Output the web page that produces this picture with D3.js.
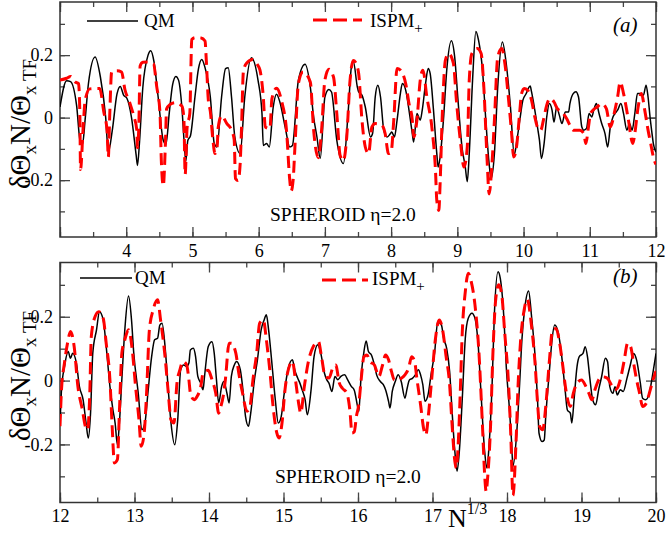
<!doctype html>
<html>
<head>
<meta charset="utf-8">
<script src="https://cdnjs.cloudflare.com/ajax/libs/d3/7.8.5/d3.min.js"></script>
<style>
  body { margin: 0; background: #fff; }
  text { font-family: "Liberation Serif", "Times New Roman", serif; }
</style>
</head>
<body>
<svg width="668" height="533"></svg>
<script>
// panel (a): N^(1/3) from 3 to 12, [x, dTheta]
var qmA = [[3.00,0.034],[3.10,0.118],[3.16,0.115],[3.25,0.040],[3.31,-0.083],[3.34,-0.085],[3.38,-0.005],[3.43,0.110],[3.53,0.194],[3.61,0.130],[3.69,0.000],[3.73,-0.110],[3.79,-0.040],[3.86,0.075],[3.91,0.100],[3.96,0.072],[4.01,0.062],[4.08,0.000],[4.15,-0.120],[4.17,-0.153],[4.20,-0.080],[4.25,0.095],[4.33,0.200],[4.37,0.214],[4.42,0.178],[4.48,0.070],[4.56,-0.073],[4.60,-0.085],[4.65,0.015],[4.70,0.105],[4.75,0.132],[4.79,0.120],[4.84,0.034],[4.88,-0.094],[4.90,-0.140],[4.93,-0.073],[4.97,-0.058],[5.04,0.070],[5.09,0.155],[5.14,0.186],[5.19,0.160],[5.27,0.066],[5.33,-0.083],[5.37,-0.094],[5.44,0.066],[5.50,0.157],[5.54,0.160],[5.59,0.066],[5.64,-0.062],[5.72,-0.115],[5.79,0.066],[5.89,0.192],[5.99,0.120],[6.05,0.013],[6.07,-0.089],[6.12,-0.083],[6.16,-0.094],[6.22,0.034],[6.27,0.075],[6.32,0.050],[6.40,-0.030],[6.47,-0.094],[6.51,-0.089],[6.60,0.120],[6.70,0.171],[6.78,0.098],[6.83,0.002],[6.88,-0.062],[6.93,-0.130],[7.00,0.066],[7.06,0.090],[7.10,0.082],[7.18,-0.073],[7.28,-0.147],[7.35,0.013],[7.40,0.162],[7.43,0.180],[7.49,0.098],[7.51,0.082],[7.56,0.072],[7.61,0.034],[7.69,-0.062],[7.72,-0.051],[7.76,0.066],[7.80,0.104],[7.84,0.066],[7.89,-0.041],[7.94,-0.062],[7.99,-0.051],[8.01,-0.046],[8.05,-0.062],[8.09,-0.008],[8.14,0.077],[8.17,0.109],[8.22,0.088],[8.27,0.024],[8.32,-0.051],[8.34,-0.078],[8.39,0.013],[8.44,-0.008],[8.47,0.024],[8.52,0.109],[8.56,0.157],[8.59,0.141],[8.64,0.024],[8.69,-0.115],[8.71,-0.158],[8.74,-0.126],[8.79,-0.008],[8.84,0.152],[8.91,0.246],[8.96,0.194],[9.01,0.056],[9.07,-0.094],[9.12,-0.158],[9.15,-0.205],[9.18,-0.115],[9.23,0.120],[9.28,0.276],[9.32,0.248],[9.38,0.152],[9.43,-0.008],[9.48,-0.147],[9.51,-0.195],[9.56,-0.115],[9.61,0.098],[9.68,0.242],[9.74,0.170],[9.80,0.040],[9.86,-0.118],[9.90,-0.072],[9.95,0.002],[9.99,0.056],[10.04,0.077],[10.07,0.093],[10.10,0.101],[10.12,0.083],[10.17,0.024],[10.21,-0.030],[10.24,-0.072],[10.27,-0.131],[10.31,-0.083],[10.35,0.002],[10.39,0.045],[10.43,0.024],[10.46,-0.014],[10.50,0.034],[10.54,0.008],[10.58,-0.019],[10.63,0.018],[10.68,0.018],[10.70,0.045],[10.75,0.077],[10.79,0.083],[10.83,0.066],[10.88,-0.030],[10.91,-0.040],[10.95,-0.035],[10.99,0.013],[11.03,0.002],[11.06,0.024],[11.10,0.045],[11.14,0.013],[11.18,-0.019],[11.23,-0.051],[11.27,-0.094],[11.31,-0.030],[11.35,0.002],[11.38,0.013],[11.42,0.024],[11.47,0.045],[11.51,0.013],[11.56,-0.040],[11.60,-0.019],[11.64,-0.040],[11.68,0.013],[11.72,0.077],[11.76,0.077],[11.81,0.072],[11.85,0.104],[11.88,0.066],[11.91,0.002],[11.94,-0.051],[11.96,-0.083],[12.00,-0.110]];

var ispmA = [[3.00,0.120],[3.10,0.126],[3.16,0.132],[3.23,0.114],[3.28,0.109],[3.30,0.010],[3.31,-0.166],[3.35,-0.030],[3.38,0.056],[3.45,0.092],[3.55,0.093],[3.60,0.093],[3.66,0.020],[3.71,-0.040],[3.73,-0.126],[3.75,0.002],[3.78,0.146],[3.86,0.150],[3.93,0.146],[3.98,0.090],[4.05,0.050],[4.11,0.008],[4.16,-0.040],[4.17,-0.096],[4.19,-0.030],[4.21,0.165],[4.25,0.177],[4.32,0.178],[4.41,0.173],[4.46,0.100],[4.51,0.015],[4.53,-0.137],[4.56,-0.218],[4.59,-0.094],[4.61,0.028],[4.66,0.042],[4.74,0.048],[4.84,0.037],[4.87,0.000],[4.89,-0.182],[4.92,-0.030],[4.96,0.013],[4.99,0.250],[5.04,0.256],[5.13,0.255],[5.19,0.245],[5.21,0.180],[5.24,0.056],[5.27,0.020],[5.31,-0.073],[5.34,-0.115],[5.37,-0.100],[5.39,-0.030],[5.44,0.006],[5.52,-0.019],[5.59,-0.040],[5.63,-0.070],[5.65,-0.195],[5.69,-0.201],[5.72,-0.150],[5.74,-0.040],[5.77,0.150],[5.82,0.175],[5.91,0.186],[5.98,0.170],[6.02,0.152],[6.07,0.066],[6.10,-0.030],[6.17,-0.035],[6.20,0.060],[6.27,0.094],[6.35,0.050],[6.42,-0.040],[6.47,-0.201],[6.49,-0.235],[6.52,-0.201],[6.55,-0.083],[6.60,0.109],[6.67,0.146],[6.78,0.114],[6.83,-0.040],[6.90,-0.128],[6.95,-0.040],[7.00,0.120],[7.06,0.155],[7.13,0.130],[7.18,0.013],[7.23,-0.121],[7.28,-0.137],[7.33,-0.062],[7.38,0.120],[7.43,0.183],[7.46,0.178],[7.51,0.141],[7.56,-0.008],[7.61,-0.094],[7.66,-0.115],[7.71,-0.030],[7.76,-0.019],[7.86,-0.024],[7.91,-0.051],[7.96,-0.115],[8.00,-0.110],[8.04,-0.008],[8.09,0.157],[8.14,0.152],[8.22,0.109],[8.27,0.045],[8.32,-0.008],[8.34,-0.062],[8.39,-0.008],[8.44,0.120],[8.48,0.152],[8.54,0.066],[8.62,-0.040],[8.67,-0.169],[8.69,-0.265],[8.72,-0.297],[8.74,-0.211],[8.77,-0.008],[8.82,0.184],[8.87,0.205],[8.94,0.174],[8.99,0.045],[9.05,-0.083],[9.10,-0.158],[9.15,-0.094],[9.18,0.120],[9.22,0.205],[9.30,0.221],[9.36,0.205],[9.40,0.098],[9.45,-0.137],[9.48,-0.244],[9.52,-0.158],[9.56,-0.008],[9.61,0.194],[9.67,0.221],[9.72,0.170],[9.77,0.066],[9.82,-0.051],[9.85,-0.126],[9.90,-0.083],[9.94,0.013],[9.97,0.077],[10.01,0.093],[10.06,0.088],[10.12,0.056],[10.17,0.002],[10.22,-0.035],[10.26,-0.040],[10.30,-0.008],[10.35,0.040],[10.40,0.061],[10.46,0.050],[10.51,0.029],[10.58,0.018],[10.65,-0.003],[10.70,-0.024],[10.75,-0.040],[10.85,-0.040],[10.91,-0.051],[10.94,-0.083],[10.98,-0.030],[11.01,0.013],[11.05,0.024],[11.11,0.034],[11.18,0.045],[11.25,0.029],[11.31,-0.030],[11.38,0.024],[11.42,0.066],[11.46,0.114],[11.51,0.077],[11.58,-0.003],[11.65,-0.083],[11.68,-0.051],[11.73,0.034],[11.78,0.077],[11.83,0.024],[11.88,-0.040],[11.92,-0.083],[11.96,-0.126],[12.00,-0.150]];

// panel (b): N^(1/3) from 12 to 20
var qmB = [[12.00,-0.140],[12.02,-0.029],[12.06,0.044],[12.11,0.091],[12.14,0.070],[12.17,0.086],[12.22,0.055],[12.26,-0.018],[12.31,-0.060],[12.35,-0.133],[12.38,-0.180],[12.41,-0.102],[12.44,0.086],[12.49,0.159],[12.53,0.216],[12.58,0.190],[12.62,0.107],[12.67,-0.018],[12.71,-0.091],[12.74,-0.133],[12.77,-0.201],[12.80,-0.123],[12.83,0.003],[12.87,0.159],[12.92,0.265],[12.96,0.190],[12.99,0.086],[13.05,-0.039],[13.10,-0.154],[13.14,-0.133],[13.18,-0.039],[13.23,0.075],[13.27,0.128],[13.31,0.133],[13.34,0.174],[13.37,0.180],[13.41,0.107],[13.45,-0.018],[13.49,-0.133],[13.54,-0.201],[13.58,-0.123],[13.62,0.034],[13.66,0.049],[13.70,0.044],[13.73,0.055],[13.75,0.096],[13.79,0.101],[13.82,0.075],[13.85,0.013],[13.89,-0.008],[13.92,-0.029],[13.94,0.013],[13.99,0.107],[14.04,0.122],[14.07,0.086],[14.10,0.003],[14.13,-0.070],[14.17,-0.018],[14.20,-0.003],[14.24,-0.039],[14.27,-0.070],[14.30,0.013],[14.34,0.049],[14.37,0.060],[14.42,0.034],[14.46,-0.039],[14.49,-0.112],[14.53,-0.143],[14.56,-0.102],[14.61,0.003],[14.65,0.065],[14.70,0.159],[14.74,0.190],[14.77,0.206],[14.80,0.159],[14.84,0.065],[14.89,-0.060],[14.93,-0.133],[14.97,-0.112],[15.01,-0.039],[15.06,0.034],[15.12,0.065],[15.15,0.034],[15.19,0.008],[15.22,-0.008],[15.25,-0.029],[15.29,-0.060],[15.32,-0.107],[15.37,-0.029],[15.41,0.075],[15.46,0.112],[15.50,0.086],[15.55,0.023],[15.58,0.003],[15.61,-0.008],[15.65,-0.034],[15.69,0.013],[15.73,0.003],[15.77,0.013],[15.82,0.018],[15.86,0.003],[15.91,-0.018],[15.95,-0.030],[15.99,-0.076],[16.01,-0.097],[16.04,0.007],[16.08,0.091],[16.11,0.124],[16.14,0.091],[16.18,0.080],[16.22,0.049],[16.25,0.018],[16.30,-0.003],[16.34,-0.013],[16.37,-0.029],[16.41,-0.065],[16.43,-0.086],[16.46,-0.034],[16.50,-0.003],[16.54,0.018],[16.58,-0.003],[16.63,-0.055],[16.66,-0.024],[16.69,0.002],[16.73,0.007],[16.77,0.018],[16.81,0.034],[16.84,0.018],[16.87,-0.013],[16.90,-0.065],[16.94,-0.045],[16.98,0.018],[17.03,0.091],[17.07,0.184],[17.12,0.174],[17.15,0.132],[17.19,0.101],[17.23,0.028],[17.26,-0.086],[17.30,-0.222],[17.33,-0.284],[17.36,-0.222],[17.40,-0.055],[17.44,0.132],[17.48,0.195],[17.53,0.211],[17.57,0.195],[17.61,0.122],[17.65,-0.034],[17.70,-0.222],[17.73,-0.274],[17.76,-0.201],[17.80,-0.013],[17.83,0.205],[17.88,0.341],[17.91,0.320],[17.94,0.257],[17.96,0.190],[17.99,0.044],[18.03,-0.081],[18.06,-0.186],[18.08,-0.269],[18.13,-0.165],[18.17,-0.008],[18.20,0.127],[18.24,0.230],[18.29,0.281],[18.33,0.200],[18.38,0.065],[18.41,-0.060],[18.43,-0.165],[18.47,-0.191],[18.50,-0.186],[18.52,-0.113],[18.57,0.033],[18.60,0.117],[18.64,0.174],[18.69,0.148],[18.73,0.085],[18.78,-0.029],[18.81,-0.092],[18.85,-0.102],[18.87,-0.133],[18.90,-0.060],[18.94,0.044],[18.97,0.075],[19.02,0.085],[19.05,0.106],[19.08,0.075],[19.11,0.012],[19.15,-0.060],[19.19,-0.076],[19.23,-0.029],[19.27,0.012],[19.32,0.070],[19.35,0.059],[19.38,-0.019],[19.42,-0.040],[19.45,-0.019],[19.48,-0.045],[19.52,-0.029],[19.56,-0.034],[19.61,0.007],[19.65,0.044],[19.70,0.085],[19.74,0.064],[19.79,-0.008],[19.82,-0.055],[19.86,-0.060],[19.91,-0.040],[19.95,0.012],[20.00,0.085]];

var ispmB = [[12.00,-0.143],[12.02,-0.029],[12.06,0.055],[12.11,0.128],[12.14,0.154],[12.19,0.107],[12.24,-0.018],[12.30,-0.091],[12.34,-0.143],[12.37,-0.154],[12.40,-0.039],[12.42,0.138],[12.47,0.200],[12.52,0.216],[12.58,0.195],[12.62,0.117],[12.67,0.003],[12.70,-0.143],[12.73,-0.258],[12.77,-0.248],[12.80,-0.081],[12.83,0.086],[12.87,0.128],[12.92,0.159],[12.97,0.096],[13.01,-0.008],[13.06,-0.123],[13.09,-0.206],[13.13,-0.164],[13.16,-0.050],[13.20,0.159],[13.25,0.221],[13.31,0.253],[13.35,0.190],[13.41,0.075],[13.45,-0.029],[13.49,-0.123],[13.53,-0.133],[13.57,-0.008],[13.61,0.034],[13.65,0.060],[13.70,0.049],[13.73,0.003],[13.75,-0.039],[13.80,-0.060],[13.84,-0.050],[13.89,-0.018],[13.92,0.023],[13.99,0.032],[14.04,0.003],[14.09,-0.039],[14.13,-0.102],[14.16,-0.081],[14.19,-0.050],[14.22,0.003],[14.27,0.117],[14.30,0.117],[14.36,0.086],[14.40,0.023],[14.45,-0.039],[14.51,-0.096],[14.55,-0.081],[14.59,0.003],[14.64,0.086],[14.68,0.180],[14.73,0.190],[14.77,0.128],[14.82,0.023],[14.86,-0.081],[14.91,-0.164],[14.94,-0.180],[14.98,-0.133],[15.02,-0.029],[15.07,0.039],[15.12,0.060],[15.16,0.003],[15.21,-0.081],[15.23,-0.102],[15.28,-0.018],[15.33,0.055],[15.40,0.107],[15.47,0.122],[15.51,0.075],[15.56,0.013],[15.61,0.008],[15.66,0.039],[15.70,0.049],[15.75,-0.008],[15.79,-0.024],[15.85,-0.039],[15.89,-0.091],[15.92,-0.164],[15.95,-0.160],[15.98,-0.110],[16.01,-0.076],[16.04,-0.003],[16.08,0.075],[16.12,0.080],[16.16,0.060],[16.22,0.049],[16.28,0.013],[16.33,0.049],[16.37,0.080],[16.41,0.065],[16.45,0.028],[16.49,0.002],[16.54,0.002],[16.58,0.007],[16.63,0.018],[16.68,0.039],[16.72,0.075],[16.76,0.060],[16.79,0.007],[16.84,-0.076],[16.88,-0.149],[16.91,-0.170],[16.95,-0.097],[16.99,0.007],[17.04,0.132],[17.09,0.190],[17.14,0.153],[17.18,0.080],[17.23,-0.013],[17.26,-0.128],[17.30,-0.253],[17.32,-0.274],[17.34,-0.222],[17.37,-0.055],[17.40,0.153],[17.44,0.278],[17.48,0.336],[17.52,0.310],[17.57,0.237],[17.62,0.101],[17.67,-0.138],[17.70,-0.295],[17.72,-0.347],[17.74,-0.305],[17.78,-0.138],[17.81,0.080],[17.85,0.258],[17.89,0.300],[17.93,0.268],[17.97,0.148],[18.02,-0.008],[18.05,-0.165],[18.08,-0.360],[18.12,-0.200],[18.15,-0.008],[18.18,0.117],[18.23,0.221],[18.27,0.255],[18.33,0.169],[18.38,0.044],[18.41,-0.071],[18.44,-0.144],[18.48,-0.154],[18.52,-0.081],[18.57,0.065],[18.61,0.158],[18.66,0.163],[18.70,0.127],[18.75,0.044],[18.79,-0.029],[18.85,-0.081],[18.89,-0.040],[18.94,-0.008],[19.00,0.002],[19.06,-0.019],[19.10,-0.040],[19.14,-0.060],[19.18,-0.029],[19.23,0.002],[19.28,0.012],[19.35,0.007],[19.40,-0.013],[19.45,-0.029],[19.48,-0.024],[19.53,0.012],[19.57,0.059],[19.62,0.117],[19.66,0.106],[19.70,0.054],[19.74,0.002],[19.78,-0.040],[19.82,-0.081],[19.87,-0.071],[19.91,-0.040],[19.96,0.002],[20.00,0.030]];

var xTicksA = [4,5,6,7,8,9,10,11,12];
var xTicksB = [12,13,14,15,16,17,18,19,20];
var yTicks = [-0.2, 0, 0.2];
var seriesNames = ["QM", "ISPM"];
var panelTags = ["(a)", "(b)"];
var shapeLabel = "SPHEROID \u03b7=2.0";

var svg = d3.select("svg");
var yDomain = [-0.382, 0.37];

var panels = [
  {tag: panelTags[0], xDom: [3,12], top: 2, bottom: 237, qm: qmA, ispm: ispmA, ticks: xTicksA,
   leg: {qmL: 87, qmR: 138, qmY: 21, qmT: 144, qmB: 27, spL: 313, spR: 362, spY: 20, spT: 370, spB: 27, tagB: 32},
   shape: {x: 270, y: 221}, labelY: 124},
  {tag: panelTags[1], xDom: [12,20], top: 262.5, bottom: 502.5, qm: qmB, ispm: ispmB, ticks: xTicksB,
   leg: {qmL: 80, qmR: 132, qmY: 278, qmT: 135, qmB: 284, spL: 322, spR: 368, spY: 280, spT: 372, spB: 285, tagB: 283},
   shape: {x: 275, y: 483}, labelY: 376}
];

var L = 60, R = 656;

panels.forEach(function(p, i) {
  var x = d3.scaleLinear().domain(p.xDom).range([L, R]);
  var y = d3.scaleLinear().domain(yDomain).range([p.bottom, p.top]);
  var g = svg.append("g");

  // y label first so the tick labels sit on top of it
  var yl = g.append("text").attr("transform", "translate(30," + p.labelY + ") rotate(-90)")
    .attr("text-anchor", "middle").attr("font-size", 29);
  yl.append("tspan").text("\u03b4\u0398");
  yl.append("tspan").attr("font-size", 19).attr("dy", 6).text("x");
  yl.append("tspan").attr("dy", -6).text("N/\u0398");
  yl.append("tspan").attr("font-size", 19).attr("dy", 6).text("x TF");

  g.append("clipPath").attr("id", "clip" + i)
    .append("rect").attr("x", L).attr("y", p.top).attr("width", R - L).attr("height", p.bottom - p.top);

  var minorX = d3.range(p.xDom[0], p.xDom[1] + 0.001, 0.5);
  var minorY = d3.range(-0.3, 0.31, 0.1).map(function(v) { return Math.round(v * 10) / 10; });
  var fmt = function(d) { return d === 0 ? "0" : String(d); };

  function styleAxis(sel) {
    sel.select(".domain").remove();
    sel.selectAll("line").attr("stroke", "#444").attr("stroke-width", 1.3);
    sel.selectAll("text").attr("font-family", "Liberation Serif").attr("font-size", 18).attr("fill", "#000");
  }

  // minor ticks (all four sides)
  g.append("g").attr("transform", "translate(0," + p.bottom + ")")
    .call(d3.axisBottom(x).tickValues(minorX).tickSize(-5).tickFormat("")).call(styleAxis);
  g.append("g").attr("transform", "translate(0," + p.top + ")")
    .call(d3.axisTop(x).tickValues(minorX).tickSize(-5).tickFormat("")).call(styleAxis);
  g.append("g").attr("transform", "translate(" + L + ",0)")
    .call(d3.axisLeft(y).tickValues(minorY).tickSize(-5).tickFormat("")).call(styleAxis);
  g.append("g").attr("transform", "translate(" + R + ",0)")
    .call(d3.axisRight(y).tickValues(minorY).tickSize(-5).tickFormat("")).call(styleAxis);

  // major ticks
  var majorX = d3.range(p.xDom[0], p.xDom[1] + 1);
  g.append("g").attr("transform", "translate(0," + p.bottom + ")")
    .call(d3.axisBottom(x).tickValues(majorX).tickSize(-10).tickPadding(7)
      .tickFormat(function(d) { return p.ticks.indexOf(d) >= 0 ? d : ""; }))
    .call(styleAxis);
  g.append("g").attr("transform", "translate(0," + p.top + ")")
    .call(d3.axisTop(x).tickValues(majorX).tickSize(-10).tickFormat("")).call(styleAxis);
  g.append("g").attr("transform", "translate(" + L + ",0)")
    .call(d3.axisLeft(y).tickValues(yTicks).tickSize(-10).tickPadding(7).tickFormat(fmt)).call(styleAxis);
  g.append("g").attr("transform", "translate(" + R + ",0)")
    .call(d3.axisRight(y).tickValues(yTicks).tickSize(-10).tickFormat("")).call(styleAxis);

  // frame
  g.append("rect").attr("x", L).attr("y", p.top).attr("width", R - L).attr("height", p.bottom - p.top)
    .attr("fill", "none").attr("stroke", "#333").attr("stroke-width", 1.5);

  var line = d3.line().x(function(d) { return x(d[0]); }).y(function(d) { return y(d[1]); })
    .curve(d3.curveMonotoneX);

  var plot = g.append("g").attr("clip-path", "url(#clip" + i + ")");
  plot.append("path").datum(p.qm).attr("d", line)
    .attr("fill", "none").attr("stroke", "#000").attr("stroke-width", 1.5).attr("stroke-linejoin", "round");
  plot.append("path").datum(p.ispm).attr("d", line)
    .attr("fill", "none").attr("stroke", "#ff0000").attr("stroke-width", 3)
    .attr("stroke-dasharray", "12,6");

  // legend
  var lg = p.leg;
  g.append("line").attr("x1", lg.qmL).attr("x2", lg.qmR).attr("y1", lg.qmY).attr("y2", lg.qmY)
    .attr("stroke", "#000").attr("stroke-width", 1.6);
  g.append("text").attr("x", lg.qmT).attr("y", lg.qmB).attr("font-size", 19).text(seriesNames[0]);
  g.append("line").attr("x1", lg.spL).attr("x2", lg.spR).attr("y1", lg.spY).attr("y2", lg.spY)
    .attr("stroke", "#ff0000").attr("stroke-width", 3).attr("stroke-dasharray", "14,6");
  var st = g.append("text").attr("x", lg.spT).attr("y", lg.spB).attr("font-size", 19);
  st.append("tspan").text(seriesNames[1]);
  st.append("tspan").attr("font-size", 15).attr("dy", 6).text("+");

  g.append("text").attr("x", 613).attr("y", lg.tagB).attr("font-size", 21)
    .attr("font-style", "italic").text(p.tag);

  g.append("text").attr("x", p.shape.x).attr("y", p.shape.y).attr("font-size", 19.5).text(shapeLabel);
});

// x-axis title
var xt = svg.append("text").attr("x", 448).attr("y", 527).attr("font-size", 26);
xt.append("tspan").text("N");
xt.append("tspan").attr("font-size", 16).attr("dy", -13).text("1/3");
</script>
</body>
</html>
